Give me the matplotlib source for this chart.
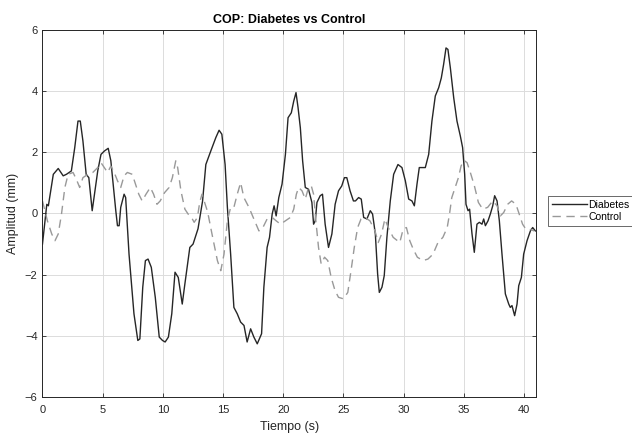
import matplotlib
matplotlib.use("Agg")
import matplotlib.pyplot as plt

plt.rcParams["font.family"] = ["Liberation Sans", "DejaVu Sans"]

# ---- Datos ----
t_diab = [0.0, 0.36, 0.49, 0.77, 0.90, 1.31, 1.72, 1.99, 2.40, 2.68, 2.95, 3.14, 3.36,
          3.63, 3.85, 4.13, 4.32, 4.59, 4.86, 5.14, 5.46, 5.68, 5.87, 6.09, 6.23, 6.37,
          6.50, 6.78, 6.91, 7.19, 7.60, 7.92, 8.09, 8.33, 8.55, 8.77, 9.04, 9.37, 9.70,
          9.97, 10.19, 10.46, 10.74, 11.01, 11.28, 11.61, 11.83, 12.24, 12.51, 12.92,
          13.3, 13.57, 13.98, 14.4, 14.67, 14.9, 15.17, 15.36, 15.63, 15.9, 16.18, 16.46,
          16.74, 17.0, 17.29, 17.56, 17.84, 18.2, 18.39, 18.66, 18.86, 19.08, 19.24,
          19.41, 19.63, 19.9, 20.18, 20.4, 20.67, 20.87, 21.06, 21.23, 21.42, 21.61,
          21.83, 22.1, 22.38, 22.52, 22.66, 22.8, 23.07, 23.26, 23.48, 23.76, 24.04,
          24.31, 24.59, 24.86, 25.08, 25.28, 25.55, 25.83, 26.0, 26.26, 26.48, 26.68,
          26.95, 27.23, 27.42, 27.65, 27.84, 27.98, 28.2, 28.39, 28.61, 28.89, 29.17,
          29.53, 29.86, 30.14, 30.42, 30.69, 30.89, 31.11, 31.3, 31.52, 31.8, 32.08,
          32.35, 32.63, 32.91, 33.13, 33.32, 33.52, 33.68, 33.88, 34.16, 34.43, 34.71,
          34.9, 35.07, 35.18, 35.35, 35.48, 35.68, 35.87, 36.09, 36.29, 36.51, 36.65,
          36.79, 37.01, 37.2, 37.4, 37.56, 37.76, 37.95, 38.17, 38.45, 38.73, 38.86,
          39.0, 39.22, 39.42, 39.56, 39.78, 39.97, 40.25, 40.53, 40.72, 40.94]
y_diab = [-1.0, 0.3, 0.25, 0.96, 1.28, 1.47, 1.23, 1.28, 1.39, 2.15, 3.02, 3.02, 2.37,
          1.28, 1.17, 0.09, 0.63, 1.39, 1.93, 2.04, 2.13, 1.72, 0.96, 0.09, -0.4, -0.4,
          0.2, 0.63, 0.52, -1.33, -3.28, -4.15, -4.1, -2.41, -1.54, -1.49, -1.76, -2.74,
          -4.04, -4.15, -4.2, -4.04, -3.28, -1.92, -2.09, -2.96, -2.3, -1.11, -1.0, -0.5,
          0.41, 1.6, 2.04, 2.48, 2.72, 2.59, 1.6, 0.2, -1.33, -3.07, -3.28, -3.55,
          -3.66, -4.2, -3.77, -4.04, -4.26, -3.93, -2.41, -1.11, -0.78, -0.02, 0.25,
          -0.08, 0.52, 0.96, 1.93, 3.13, 3.29, 3.67, 3.95, 3.46, 2.8, 1.72,
          0.85, 0.79, 0.36, -0.35, -0.24, 0.36, 0.58, 0.63, -0.35, -1.11, -0.67,
          0.3, 0.74, 0.9, 1.17, 1.17, 0.74, 0.41, 0.41, 0.52, 0.47, -0.13,
          -0.18, 0.09, -0.02, -0.67, -1.98, -2.58, -2.41, -2.03, -0.78, 0.41, 1.28,
          1.6, 1.5, 1.07, 0.47, 0.41, 0.25, 0.96, 1.5, 1.5, 1.5, 1.93,
          3.02, 3.84, 4.11, 4.43, 4.87, 5.41, 5.36, 4.76, 3.78, 3.02, 2.53,
          2.15, 1.28, 0.3, 0.09, 0.14, -0.67, -1.27, -0.35, -0.29, -0.35, -0.18,
          -0.4, -0.24, -0.02, 0.25, 0.58, 0.41, -0.24, -1.33, -2.63, -2.96, -3.07,
          -3.01, -3.34, -2.96, -2.36, -2.09, -1.33, -0.89, -0.57, -0.46, -0.57]

t_ctrl = [0.0, 0.41, 0.77, 1.04, 1.31, 1.58, 1.86, 2.13, 2.54, 2.81, 3.09, 3.36, 3.77,
          4.18, 4.59, 4.86, 5.14, 5.41, 5.68, 5.96, 6.23, 6.50, 6.78, 7.05, 7.46, 7.73,
          8.0, 8.28, 8.6, 8.96, 9.23, 9.51, 9.78, 10.14, 10.52, 10.79, 11.07, 11.23,
          11.5, 11.83, 12.1, 12.38, 12.6, 12.87, 13.06, 13.25, 13.47, 13.72, 14.07,
          14.53, 14.81, 15.08, 15.36, 15.63, 15.9, 16.18, 16.46, 16.73, 17.15, 17.56,
          17.98, 18.31, 18.66, 19.08, 19.41, 19.77, 20.18, 20.59, 20.87, 21.09, 21.28,
          21.56, 21.83, 22.1, 22.33, 22.52, 22.71, 22.93, 23.15, 23.43, 23.7, 23.98,
          24.3, 24.59, 25.0, 25.36, 25.63, 25.9, 26.18, 26.46, 26.79, 27.2, 27.62,
          27.89, 28.17, 28.44, 28.72, 29.13, 29.68, 29.96, 30.23, 30.51, 30.79, 31.14,
          31.61, 32.02, 32.44, 32.85, 33.26, 33.62, 33.81, 34.0, 34.28, 34.55, 34.77,
          34.99, 35.27, 35.54, 35.88, 36.21, 36.57, 36.98, 37.4, 37.76, 38.03, 38.31,
          38.64, 38.97, 39.33, 39.6, 39.88, 40.15, 40.43, 40.84]
y_ctrl = [0.41, -0.24, -0.67, -0.89, -0.67, -0.02, 0.85, 1.28, 1.34, 1.12, 0.85, 1.17,
          1.28, 1.34, 1.5, 1.66, 1.5, 1.34, 1.55, 1.34, 1.07, 0.85, 1.23, 1.34, 1.28,
          0.96, 0.63, 0.41, 0.63, 0.85, 0.63, 0.3, 0.41, 0.68, 0.85, 1.17, 1.72, 1.5,
          0.74, 0.14, -0.02, -0.13, -0.29, -0.13, 0.36, 0.63, 0.36, 0.05, -0.65,
          -1.54, -1.87, -1.33, -0.24, 0.2, 0.2, 0.63, 1.01, 0.52, 0.2, -0.18,
          -0.57, -0.46, -0.18, -0.13, -0.24, -0.35, -0.24, -0.13, 0.14, 0.63, 0.85,
          0.74, 0.47, 0.85, 0.9, 0.63, -0.24, -1.11, -1.65, -1.43, -1.54, -2.09,
          -2.52, -2.74, -2.79, -2.58, -1.87, -1.11, -0.46, -0.18, -0.13, -0.24, -0.57,
          -0.95, -0.67, -0.18, -0.46, -0.78, -0.95, -0.51, -0.46, -0.89, -1.16, -1.43,
          -1.54, -1.49, -1.33, -0.95, -0.78, -0.46, -0.02, 0.52, 0.85, 1.17, 1.55,
          1.74, 1.66, 1.34, 0.9, 0.36, 0.14, 0.2, 0.41, 0.25, -0.08, 0.03,
          0.3, 0.41, 0.3, -0.02, -0.35, -0.51, -0.51, -0.57]

x_ticks = [0, 5, 10, 15, 20, 25, 30, 35, 40]
y_ticks = [-6, -4, -2, 0, 2, 4, 6]


def main():
    fig = plt.figure(figsize=(6.32, 4.33), dpi=100)
    ax = fig.add_axes([0.0672, 0.083, 0.781, 0.848])

    ax.plot(t_diab, y_diab, color="#262626", linewidth=1.0, label="Diabetes")
    ax.plot(t_ctrl, y_ctrl, color="#999999", linewidth=1.0, linestyle=(0, (6, 4)),
            label="Control")

    ax.set_xlim(0, 41)
    ax.set_ylim(-6, 6)
    ax.set_xticks(x_ticks)
    ax.set_yticks(y_ticks)
    ax.grid(True, color="#dcdcdc", linewidth=0.7)
    ax.set_axisbelow(True)
    ax.tick_params(direction="in", length=3, width=0.6, colors="#262626",
                   labelsize=8, top=True, right=True, labelcolor="#262626")
    ax.tick_params(axis="x", pad=6)
    for sp in ax.spines.values():
        sp.set_color("#262626")
        sp.set_linewidth(0.7)

    ax.set_title("COP: Diabetes vs Control", fontsize=9, fontweight="bold", pad=5)
    ax.set_xlabel("Tiempo (s)", fontsize=9, labelpad=4, color="#262626")
    ax.set_ylabel("Amplitud (mm)", fontsize=9, labelpad=4, color="#262626")

    # la leyenda queda cortada en el borde derecho, como en el original
    leg = fig.legend(loc="center left", bbox_to_anchor=(0.867, 0.513), fontsize=7.5,
                     frameon=True, fancybox=False, edgecolor="#262626",
                     handlelength=3.4, borderpad=0.35, labelspacing=0.2,
                     handletextpad=0.15, borderaxespad=0)
    leg.get_frame().set_linewidth(0.6)

    fig.savefig("out.png", dpi=100, facecolor="white")
    plt.close(fig)


if __name__ == "__main__":
    main()
